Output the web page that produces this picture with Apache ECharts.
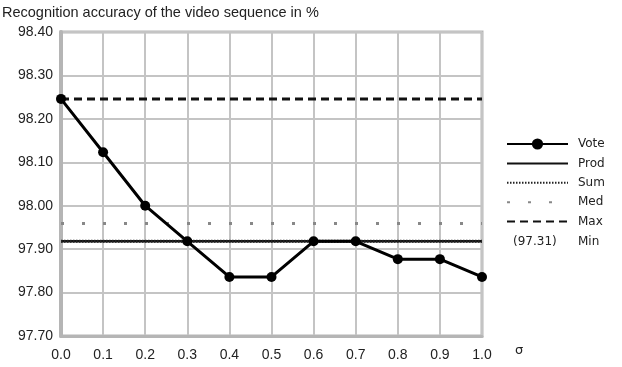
<!DOCTYPE html>
<html><head><meta charset="utf-8">
<script src="https://cdn.jsdelivr.net/npm/echarts@6/dist/echarts.min.js"></script>
<style>html,body{margin:0;padding:0;background:#fff}#c{width:622px;height:367px}</style>
</head><body><div id="c"></div>
<script>
const sigma = [0.0, 0.1, 0.2, 0.3, 0.4, 0.5, 0.6, 0.7, 0.8, 0.9, 1.0];
const vote = [98.246, 98.123, 98.00, 97.918, 97.836, 97.836, 97.918, 97.918, 97.877, 97.877, 97.836];
const prod = [97.918, 97.918];
const sum = [97.918, 97.918];
const med = [97.959, 97.959];
const max = [98.246, 98.246];
const minVal = [97.31, 97.31];
const ends = [0.0, 1.0];
const title = 'Recognition accuracy of the video sequence in %';

const pair = (xs, ys) => xs.map((x, i) => [x, ys[i]]);
const chart = echarts.init(document.getElementById('c'), null, {renderer: 'canvas'});
const legendFont = {fontFamily: 'DejaVu Sans', fontSize: 12, color: '#222', padding: [0, 0, 0, 5]};
const clear = 'rgba(0,0,0,0)';
chart.setOption({
  animation: false,
  title: {text: title, left: 2, top: 5, padding: 0, textStyle: {fontFamily: 'Liberation Sans', fontSize: 14.5, fontWeight: 'normal', color: '#222'}},
  grid: {left: 61, right: 140, top: 32, bottom: 31, show: true, borderColor: '#b5b5b5', borderWidth: 3},
  legend: {
    orient: 'vertical', left: 506, top: 138, padding: 0, itemWidth: 61, itemHeight: 14, itemGap: 7.4,
    textStyle: legendFont,
    data: ['Vote', 'Prod', 'Sum', 'Med', 'Max', {name: 'Min', icon: 'rect', itemStyle: {opacity: 0}}]
  },
  xAxis: {
    type: 'value', min: 0, max: 1, interval: 0.1,
    name: 'σ', nameLocation: 'end', nameGap: 33,
    nameTextStyle: {fontFamily: 'DejaVu Sans', fontSize: 13, color: '#222', verticalAlign: 'top', padding: [8, 0, 0, 0]},
    axisLine: {show: true, lineStyle: {color: '#b5b5b5', width: 3}},
    axisTick: {show: false},
    axisLabel: {margin: 12, formatter: v => v.toFixed(1), fontFamily: 'Liberation Sans', fontSize: 14, color: '#222'},
    splitLine: {show: true, lineStyle: {color: '#c4c4c4', width: 2}}
  },
  yAxis: {
    type: 'value', min: 97.7, max: 98.4, interval: 0.1,
    axisLine: {show: true, lineStyle: {color: '#b5b5b5', width: 4}},
    axisTick: {show: false},
    axisLabel: {margin: 8, formatter: v => v.toFixed(2), fontFamily: 'Liberation Sans', fontSize: 14, color: '#222'},
    splitLine: {show: true, lineStyle: {color: '#c4c4c4', width: 2}}
  },
  graphic: [{type: 'text', left: 513, top: 236, style: {text: '(97.31)', font: '12px "DejaVu Sans"', fill: '#222'}}],
  series: [
    {name: 'Prod', type: 'line', data: pair(ends, prod), symbol: 'none', lineStyle: {color: '#111', width: 2.5}, itemStyle: {color: clear}, z: 3},
    {name: 'Sum', type: 'line', data: pair(ends, sum), symbol: 'none', lineStyle: {color: '#222', width: 3, type: [1.5, 1.5]}, itemStyle: {color: clear}, z: 4},
    {name: 'Med', type: 'line', data: pair(ends, med), symbol: 'none', lineStyle: {color: '#888', width: 3, type: [3, 18]}, itemStyle: {color: clear}, z: 3},
    {name: 'Max', type: 'line', data: pair(ends, max), symbol: 'none', lineStyle: {color: '#111', width: 3, type: [8, 5]}, itemStyle: {color: clear}, z: 3},
    {name: 'Min', type: 'line', data: pair(ends, minVal), symbol: 'none', lineStyle: {color: clear, width: 2}, itemStyle: {color: clear}, clip: true, z: 3},
    {name: 'Vote', type: 'line', data: pair(sigma, vote), symbol: 'circle', symbolSize: 10, lineStyle: {color: '#000', width: 3}, itemStyle: {color: '#000'}, z: 5}
  ]
});
</script></body></html>
